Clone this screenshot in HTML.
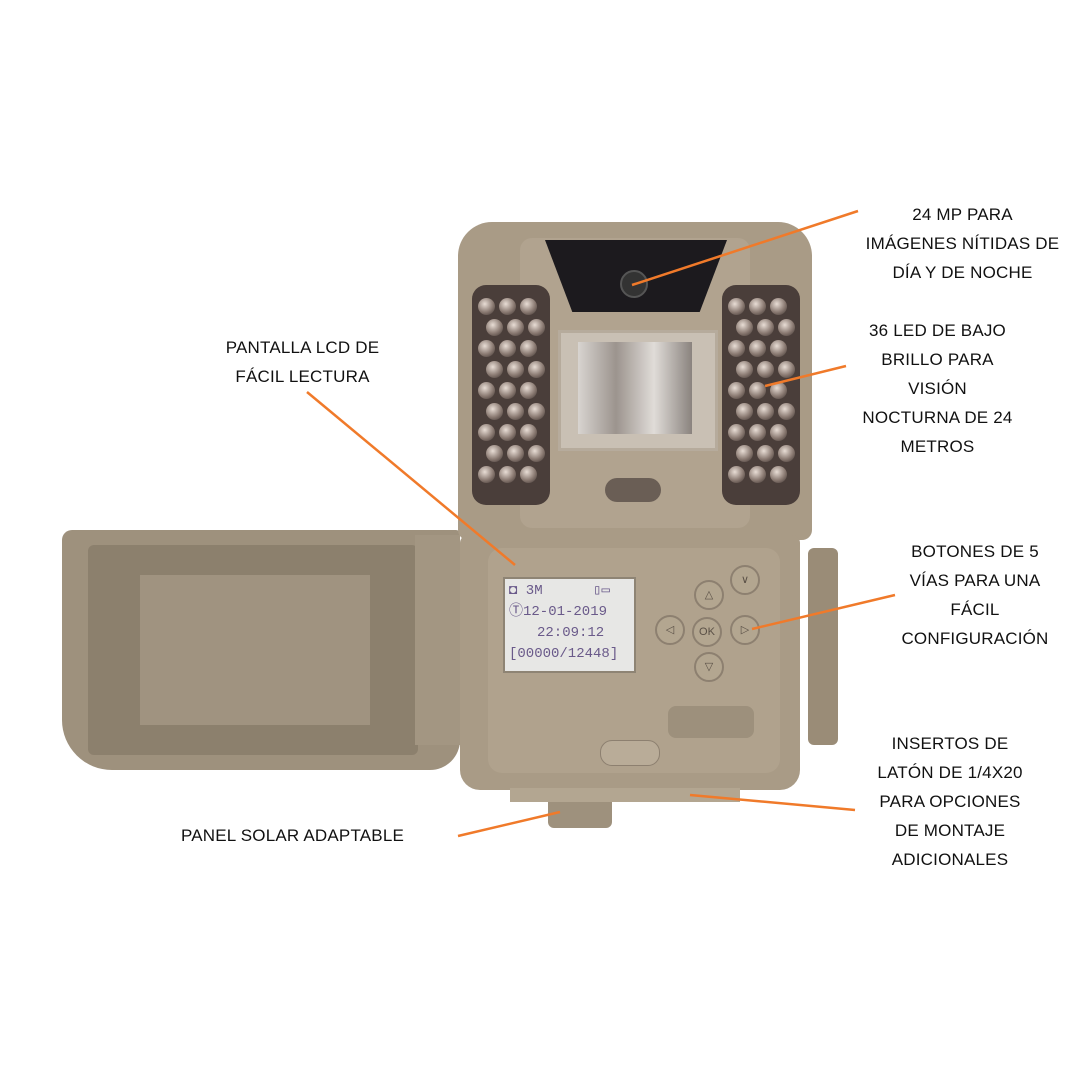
<!DOCTYPE html>
<html><head><meta charset="utf-8"><style>
html,body{margin:0;padding:0;background:#fff;}
#c{position:relative;width:1080px;height:1080px;overflow:hidden;font-family:"Liberation Sans",sans-serif;}
.a{position:absolute;}
.lbl{position:absolute;text-align:center;font-size:17px;line-height:29px;color:#111;letter-spacing:0.2px;text-transform:uppercase;}
.led{position:absolute;width:17px;height:17px;border-radius:50%;background:radial-gradient(circle at 40% 35%,#e8ddd5,#8a7a72 55%,#3a302c);}
.btn{position:absolute;width:26px;height:26px;border-radius:50%;background:#b3a690;border:2px solid #8d8070;color:#5a5046;font-size:11px;text-align:center;line-height:26px;}
</style></head><body><div id="c">
<div class="a" style="left:62px;top:530px;width:398px;height:240px;background:#9e917d;border-radius:10px 4px 30px 50px;"></div>
<div class="a" style="left:88px;top:545px;width:330px;height:210px;background:#8c806d;border-radius:6px;"></div>
<div class="a" style="left:140px;top:575px;width:230px;height:150px;background:#a09380;"></div>
<div class="a" style="left:415px;top:535px;width:45px;height:210px;background:#a39682;"></div>
<div class="a" style="left:458px;top:222px;width:354px;height:318px;background:#a99b86;border-radius:34px 34px 10px 10px;"></div>
<div class="a" style="left:520px;top:238px;width:230px;height:290px;background:#b1a38f;border-radius:12px;"></div>
<div class="a" style="left:545px;top:240px;width:182px;height:72px;background:#1c1a1e;clip-path:polygon(0 0,100% 0,85% 100%,15% 100%);"></div>
<div class="a" style="left:620px;top:270px;width:24px;height:24px;border-radius:50%;background:#333;border:2px solid #555;"></div>
<div class="a" style="left:472px;top:285px;width:78px;height:220px;background:#4a3e3a;border-radius:14px;"></div>
<div class="a" style="left:722px;top:285px;width:78px;height:220px;background:#4a3e3a;border-radius:14px;"></div>
<div class="a" style="left:558px;top:330px;width:154px;height:115px;background:#c9c0b4;border:3px solid #b6ab9c;"></div>
<div class="a" style="left:578px;top:342px;width:114px;height:92px;background:linear-gradient(90deg,#d8d4d0,#9c948e,#e0dcd8,#8a837e);"></div>
<div class="a" style="left:605px;top:478px;width:56px;height:24px;border-radius:12px;background:#6a5e55;"></div>
<div class="a" style="left:460px;top:535px;width:340px;height:255px;background:#a99b86;border-radius:8px 8px 20px 20px;"></div>
<div class="a" style="left:488px;top:548px;width:292px;height:225px;background:#b0a28d;border-radius:14px;"></div>
<div class="a" style="left:808px;top:548px;width:30px;height:197px;background:#9a8c77;border-radius:6px;"></div>
<div class="a" style="left:503px;top:577px;width:133px;height:96px;background:#e7e7e5;border:2px solid #8e8474;font-size:14px;color:#6a5a8a;font-family:'Liberation Mono',monospace;line-height:21px;padding:2px 4px;box-sizing:border-box;">
<div>◘ 3M&nbsp;&nbsp;&nbsp;&nbsp;&nbsp;&nbsp;▯▭</div><div>Ⓣ12-01-2019</div><div style="padding-left:28px">22:09:12</div><div>[00000/12448]</div></div>
<div class="btn" style="left:730px;top:565px">∨</div>
<div class="btn" style="left:694px;top:580px">△</div>
<div class="btn" style="left:655px;top:615px">◁</div>
<div class="btn" style="left:692px;top:617px">OK</div>
<div class="btn" style="left:730px;top:615px">▷</div>
<div class="btn" style="left:694px;top:652px">▽</div>
<div class="a" style="left:668px;top:706px;width:86px;height:32px;border-radius:8px;background:#9d907c;"></div>
<div class="a" style="left:600px;top:740px;width:58px;height:24px;border-radius:12px;background:#b9ac98;border:1px solid #8d8070;"></div>
<div class="a" style="left:548px;top:790px;width:64px;height:38px;background:#9e917d;border-radius:6px;"></div>
<div class="a" style="left:510px;top:788px;width:230px;height:14px;background:#b3a691;"></div>
<div id="leds"></div>
<svg class="a" style="left:0;top:0" width="1080" height="1080">
<g stroke="#f07a2a" stroke-width="2.5">
<line x1="858" y1="211" x2="632" y2="285"/>
<line x1="307" y1="392" x2="515" y2="565"/>
<line x1="846" y1="366" x2="765" y2="386"/>
<line x1="895" y1="595" x2="752" y2="629"/>
<line x1="855" y1="810" x2="690" y2="795"/>
<line x1="458" y1="836" x2="560" y2="812"/>
</g></svg>
<div class="lbl" style="left:860px;top:200px;width:205px;">24 MP para<br>imágenes nítidas de<br>día y de noche</div>
<div class="lbl" style="left:845px;top:316px;width:185px;">36 LED de bajo<br>brillo para<br>visión<br>nocturna de 24<br>metros</div>
<div class="lbl" style="left:205px;top:333px;width:195px;">Pantalla LCD de<br>fácil lectura</div>
<div class="lbl" style="left:890px;top:537px;width:170px;">Botones de 5<br>vías para una<br>fácil<br>configuración</div>
<div class="lbl" style="left:865px;top:729px;width:170px;">Insertos de<br>latón de 1/4x20<br>para opciones<br>de montaje<br>adicionales</div>
<div class="lbl" style="left:170px;top:821px;width:245px;">Panel solar adaptable</div>
<script>
var h='';[[478,298],[728,298]].forEach(function(p){for(var r=0;r<9;r++)for(var c=0;c<3;c++){h+='<div class="led" style="left:'+(p[0]+c*21+(r%2?8:0))+'px;top:'+(p[1]+r*21)+'px"></div>';}});
document.getElementById('leds').innerHTML=h;
</script>
</div></body></html>
